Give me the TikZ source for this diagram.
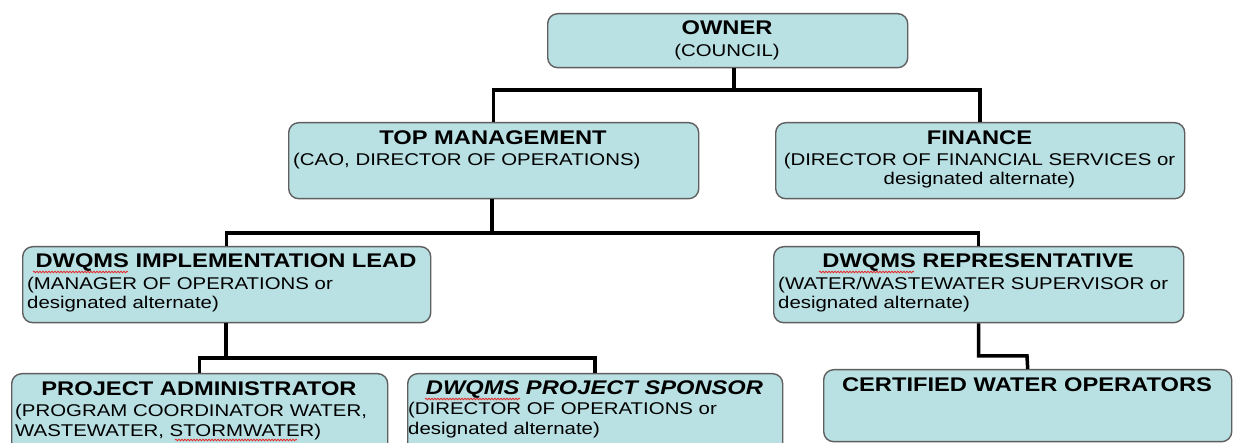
\documentclass[tikz,border=0pt]{standalone}
\usepackage{fontspec}
\setmainfont{Liberation Sans}[FakeStretch=1.2]
\usetikzlibrary{decorations.pathmorphing}
\definecolor{boxfill}{RGB}{185,224,227}
\definecolor{boxline}{RGB}{95,95,95}
\definecolor{spell}{RGB}{230,40,40}
\begin{document}
\begin{tikzpicture}[x=1pt,y=-1pt,
  box/.style={draw=boxline, fill=boxfill, line width=1.4pt, rounded corners=10pt,
    inner sep=0pt, anchor=north west},
  conn/.style={line width=3.5pt, draw=black},
  ttl/.style={anchor=base, inner sep=0pt, font=\fontsize{19.75}{22}\selectfont\bfseries},
  ttli/.style={ttl, font=\fontsize{19.75}{22}\selectfont\bfseries\itshape},
  sub/.style={anchor=base west, inner sep=0pt, font=\fontsize{17}{19.5}\selectfont},
  subc/.style={anchor=base, inner sep=0pt, font=\fontsize{17}{19.5}\selectfont},
  squig/.style={draw=spell, line width=0.8pt, decorate,
    decoration={snake, segment length=3pt, amplitude=0.8pt}}]
\clip (0,0) rectangle (1235,443);
\fill[white] (0,0) rectangle (1235,443);

% boxes
\node[box, minimum width=360pt, minimum height=54pt] (owner) at (547,13) {};
\node[box, minimum width=410pt, minimum height=76pt] (top) at (288,122) {};
\node[box, minimum width=409pt, minimum height=76pt] (fin) at (775,122) {};
\node[box, minimum width=408pt, minimum height=76pt] (impl) at (22,246) {};
\node[box, minimum width=410pt, minimum height=76pt] (rep) at (773,246) {};
\node[box, minimum width=376pt, minimum height=90pt] (admin) at (11,373) {};
\node[box, minimum width=375pt, minimum height=90pt] (spon) at (407,373) {};
\node[box, minimum width=408pt, minimum height=72pt] (cwo) at (823,369) {};

% connectors
\coordinate (oj) at (734,90);
\draw[conn] (owner.south -| oj) -- (oj) -| (top.north);
\draw[conn] (oj) -| (fin.north);
\coordinate (tj) at (492,233);
\draw[conn] (top.south -| tj) -- (tj) -| (impl.north);
\draw[conn] (tj) -| (rep.north);
\coordinate (ij) at (226,358);
\draw[conn] (impl.south -| ij) -- (ij) -| (admin.north);
\draw[conn] (ij) -| (spon.north);
\coordinate (rj) at (1027,356);
\draw[conn] (rep.south) |- (rj) -- (cwo.north);

% texts
\node[ttl] (ownerT) at (727,35) {OWNER};
\node[subc] (ownerS) at (727,57) {(COUNCIL)};

\node[ttl] (topT) at (493,145) {TOP MANAGEMENT};
\node[sub] (topS) at (293,166) {(CAO, DIRECTOR OF OPERATIONS)};

\node[ttl] (finT) at (979.5,145) {FINANCE};
\node[subc] (finS1) at (979.5,166) {(DIRECTOR OF FINANCIAL SERVICES or};
\node[subc] (finS2) at (979.5,185) {designated alternate)};

\node[ttl] (implT) at (226,268) {DWQMS IMPLEMENTATION LEAD};
\node[sub] (implS1) at (27,290) {(MANAGER OF OPERATIONS or};
\node[sub] (implS2) at (27,309) {designated alternate)};

\node[ttl] (repT) at (978,268) {DWQMS REPRESENTATIVE};
\node[sub] (repS1) at (778,290) {(WATER/WASTEWATER SUPERVISOR or};
\node[sub] (repS2) at (778,309) {designated alternate)};

\node[ttl] (adminT) at (199,396) {PROJECT ADMINISTRATOR};
\node[sub] (adminS1) at (15,417) {(PROGRAM COORDINATOR WATER,};
\node[sub] (adminS2) at (15,437) {WASTEWATER, STORMWATER)};

\node[ttli] (sponT) at (594.5,395) {DWQMS PROJECT SPONSOR};
\node[sub] (sponS1) at (408,415) {(DIRECTOR OF OPERATIONS or};
\node[sub] (sponS2) at (408,435) {designated alternate)};

\node[ttl] (cwoT) at (1027,392) {CERTIFIED WATER OPERATORS};

% spell-check marks
\draw[squig] (33,272) -- (128,272);
\draw[squig] (819,272) -- (914,272);
\draw[squig] (425,399) -- (520,399);
\draw[squig] (175,440) -- (297,440);
\end{tikzpicture}
\end{document}
